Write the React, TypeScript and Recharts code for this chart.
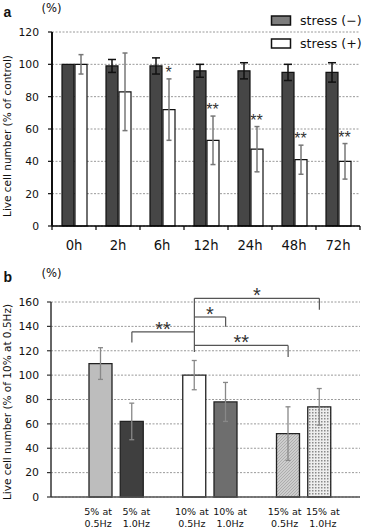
import React from 'react';
import {
  BarChart,
  Bar,
  XAxis,
  YAxis,
  CartesianGrid,
  ErrorBar,
  ReferenceLine,
  ReferenceDot,
  Legend,
  Cell,
} from 'recharts';

// ---------- Panel a data ----------
const timePoints = ['0h', '2h', '6h', '12h', '24h', '48h', '72h'];
const stressMinus = [100, 99, 99, 96, 96, 95, 95];
const stressMinusErr = [0, 4, 5, 4, 5, 5, 6];
const stressPlus = [100, 83, 72, 53, 47.5, 41, 40];
const stressPlusErr = [6, 24, 19, 15, 14, 9, 11];
const stressPlusSig = ['', '', '*', '**', '**', '**', '**'];
const ticksA = [0, 20, 40, 60, 80, 100, 120];
const seriesNamesA = ['stress (\u2212)', 'stress (+)'];

// ---------- Panel b data ----------
const conditionKeys = ['5-0.5', '5-1.0', 'gap1', '10-0.5', '10-1.0', 'gap2', '15-0.5', '15-1.0'];
const strainLabels = ['5% at', '5% at', '', '10% at', '10% at', '', '15% at', '15% at'];
const freqLabels = ['0.5Hz', '1.0Hz', '', '0.5Hz', '1.0Hz', '', '0.5Hz', '1.0Hz'];
const liveCells = [109.5, 62, null, 100, 78, null, 52, 74];
const liveCellsErr = [13, 15, null, 12, 16, null, 22, 15];
const ticksB = [0, 20, 40, 60, 80, 100, 120, 140, 160];

const comparisonStem = { at: '10-0.5', top: 163, bottom: 119 };
const comparisons = [
  { from: '5-1.0', to: '10-0.5', level: 135.5, drop: 126.8, dropAt: 'from', mark: '**' },
  { from: '10-0.5', to: '10-1.0', level: 147.7, drop: 139.7, dropAt: 'to', mark: '*' },
  { from: '10-0.5', to: '15-0.5', level: 124.4, drop: 114.9, dropAt: 'to', mark: '**' },
  { from: '10-0.5', to: '15-1.0', level: 163, drop: 153.7, dropAt: 'to', mark: '*' },
];

// ---------- styles ----------
const FONT = "'DejaVu Sans', sans-serif";
const STAR_FONT = "'Liberation Sans', Arial, sans-serif";
const barFillsB = ['#bdbdbd', '#3f3f3f', '#ffffff', '#ffffff', '#6e6e6e', '#ffffff', 'url(#hatchB)', 'url(#dotsB)'];
const tickShiftB = [-2.5, 4.5, 0, -2.5, 4.5, 0, -3.5, 3.5];
const legendSwatch = ['#7d7d7d', '#ffffff'];

const dataA = timePoints.map((t, i) => ({
  time: t,
  minus: stressMinus[i],
  minusErr: stressMinusErr[i],
  plus: stressPlus[i],
  plusErr: stressPlusErr[i],
}));

const dataB = conditionKeys.map((k, i) => ({
  key: k,
  value: liveCells[i],
  err: liveCellsErr[i],
}));

const makeYLabel = (text: string, shift: number) => (props: any) => {
  const vb = props.viewBox || {};
  const cx = 10.5;
  const cy = (vb.y || 0) + (vb.height || 0) / 2 + shift;
  return (
    <text
      x={cx}
      y={cy}
      transform={`rotate(-90 ${cx} ${cy})`}
      textAnchor="middle"
      fontSize={10.5}
      fontFamily={FONT}
      fill="#111"
    >
      {text}
    </text>
  );
};

const TimeTick = (props: any) => {
  const { x, y, payload, index } = props;
  const half = payload && payload.offset ? payload.offset : 0;
  const last = index === timePoints.length - 1;
  return (
    <g>
      <line x1={x - half} x2={x - half} y1={y} y2={y + 4} stroke="#000" strokeWidth={1.2} />
      {last && <line x1={x + half} x2={x + half} y1={y} y2={y + 4} stroke="#000" strokeWidth={1.2} />}
      <text x={x} y={y + 24} textAnchor="middle" fontSize={13.2} fontFamily={FONT} fill="#111">
        {payload.value}
      </text>
    </g>
  );
};

const ConditionTick = (props: any) => {
  const { x, y, index } = props;
  const l1 = strainLabels[index];
  const l2 = freqLabels[index];
  if (!l1) return <g />;
  const cx = x + tickShiftB[index];
  return (
    <g>
      <text x={cx} y={y + 18} textAnchor="middle" fontSize={9.5} fontFamily={FONT} fill="#111">
        {l1}
      </text>
      <text x={cx} y={y + 30} textAnchor="middle" fontSize={9.5} fontFamily={FONT} fill="#111">
        {l2}
      </text>
    </g>
  );
};

const SigLabelA = (props: any) => {
  const vb = props.viewBox;
  if (!vb) return null;
  return (
    <text
      x={vb.x + vb.width / 2 + 6.5}
      y={vb.y + vb.height / 2 - 1}
      textAnchor="middle"
      fontSize={16}
      fontFamily={STAR_FONT}
      fill="#333"
    >
      {props.value}
    </text>
  );
};

const SigLabelB = (props: any) => {
  const vb = props.viewBox;
  if (!vb) return null;
  return (
    <text
      x={vb.x + vb.width / 2}
      y={vb.y + 4}
      textAnchor="middle"
      fontSize={20}
      fontFamily={STAR_FONT}
      fill="#333"
    >
      {props.value}
    </text>
  );
};

const LegendA = () => (
  <svg width={100} height={40} style={{ display: 'block', overflow: 'visible' }}>
    {seriesNamesA.map((name, i) => (
      <g key={name}>
        <rect
          x={3.5}
          y={4 + i * 23}
          width={19}
          height={9}
          fill={legendSwatch[i]}
          stroke="#111"
          strokeWidth={1.5}
        />
        <text x={32} y={13 + i * 22.5} fontSize={12.6} fontFamily={FONT} fill="#111">
          {name}
        </text>
      </g>
    ))}
  </svg>
);

const gridStroke = '#9a9a9a';

export default function App() {
  return (
    <div
      style={{
        position: 'absolute',
        left: 0,
        top: 0,
        width: 368,
        height: 528,
        background: '#fff',
      }}
    >
      {/* Panel a */}
      <div style={{ position: 'absolute', left: 0, top: 0 }}>
        <BarChart
          width={368}
          height={262}
          data={dataA}
          margin={{ top: 32, right: 8, bottom: 0, left: 0 }}
          barGap={1}
          barSize={12}
        >
          <CartesianGrid vertical={false} stroke={gridStroke} strokeDasharray="2 1.5" />
          <XAxis
            dataKey="time"
            height={36}
            interval={0}
            tickSize={0}
            tickMargin={0}
            tickLine={false}
            axisLine={{ stroke: '#000', strokeWidth: 1.5 }}
            tick={<TimeTick />}
          />
          <YAxis
            width={52}
            domain={[0, 120]}
            ticks={ticksA}
            interval={0}
            tickSize={4}
            tickMargin={9}
            axisLine={{ stroke: '#111', strokeWidth: 2 }}
            tickLine={{ stroke: '#111', strokeWidth: 1.2 }}
            tick={{ fontSize: 10.8, fontFamily: FONT, fill: '#111' }}
            label={{ value: 'Live cell number (% of control)', content: makeYLabel('Live cell number (% of control)', 7) }}
          />
          <Legend
            layout="vertical"
            align="center"
            verticalAlign="middle"
            wrapperStyle={{ top: 12, left: 268, width: 100, height: 40 }}
            content={<LegendA />}
          />
          <Bar
            dataKey="minus"
            name={seriesNamesA[0]}
            fill="#464646"
            stroke="#111"
            strokeWidth={1.2}
            isAnimationActive={false}
          >
            <ErrorBar dataKey="minusErr" width={4} stroke="#111" strokeWidth={1.5} direction="y" />
          </Bar>
          <Bar
            dataKey="plus"
            name={seriesNamesA[1]}
            fill="#ffffff"
            stroke="#111"
            strokeWidth={1.2}
            isAnimationActive={false}
          >
            <ErrorBar dataKey="plusErr" width={2.5} stroke="#777" strokeWidth={1.5} direction="y" />
          </Bar>
          {timePoints.map((t, i) =>
            stressPlusSig[i] ? (
              <ReferenceDot
                key={`sig-${t}`}
                x={t}
                y={stressPlus[i] + stressPlusErr[i]}
                r={0}
                fill="none"
                stroke="none"
                label={{ value: stressPlusSig[i], content: SigLabelA }}
              />
            ) : null
          )}
        </BarChart>
      </div>

      {/* Panel b */}
      <div style={{ position: 'absolute', left: 0, top: 262 }}>
        <BarChart
          width={368}
          height={266}
          data={dataB}
          margin={{ top: 40, right: 8, bottom: 0, left: 0 }}
          barSize={23}
        >
          <defs>
            <pattern id="hatchB" width="3" height="3" patternUnits="userSpaceOnUse">
              <rect width="3" height="3" fill="#cdcdcd" />
              <path d="M0,3 L3,0" stroke="#a5a5a5" strokeWidth="0.8" />
            </pattern>
            <pattern id="dotsB" width="3" height="3" patternUnits="userSpaceOnUse">
              <rect width="3" height="3" fill="#eeeeee" />
              <rect x="0" y="0" width="1.5" height="1.5" fill="#8a8a8a" />
            </pattern>
          </defs>
          <CartesianGrid vertical={false} stroke={gridStroke} strokeDasharray="2 1.5" />
          <XAxis
            dataKey="key"
            height={31}
            interval={0}
            tickSize={0}
            tickMargin={0}
            tickLine={false}
            padding={{ left: 34, right: 25 }}
            axisLine={{ stroke: '#555', strokeWidth: 1.5 }}
            tick={<ConditionTick />}
          />
          <YAxis
            width={51}
            domain={[0, 160]}
            ticks={ticksB}
            interval={0}
            tickSize={4}
            tickMargin={8}
            axisLine={{ stroke: '#333', strokeWidth: 1.5 }}
            tickLine={{ stroke: '#333', strokeWidth: 1.2 }}
            tick={{ fontSize: 10.8, fontFamily: FONT, fill: '#111' }}
            label={{
              value: 'Live cell number (% of 10% at 0.5Hz)',
              content: makeYLabel('Live cell number (% of 10% at 0.5Hz)', 2.5),
            }}
          />
          <Bar dataKey="value" stroke="#222" strokeWidth={1.3} isAnimationActive={false}>
            {dataB.map((d, i) => (
              <Cell key={d.key} fill={barFillsB[i]} />
            ))}
            <ErrorBar dataKey="err" width={2.5} stroke="#888" strokeWidth={1.3} direction="y" />
          </Bar>
          <ReferenceLine
            segment={[
              { x: comparisonStem.at, y: comparisonStem.top },
              { x: comparisonStem.at, y: comparisonStem.bottom },
            ]}
            stroke="#555"
            strokeWidth={1.2}
            ifOverflow="visible"
          />
          {comparisons.map((c, i) => (
            <ReferenceLine
              key={`h-${i}`}
              segment={[
                { x: c.from, y: c.level },
                { x: c.to, y: c.level },
              ]}
              stroke="#555"
              strokeWidth={1.2}
              ifOverflow="visible"
              label={{ value: c.mark, content: SigLabelB }}
            />
          ))}
          {comparisons.map((c, i) => {
            const at = c.dropAt === 'from' ? c.from : c.to;
            return (
              <ReferenceLine
                key={`v-${i}`}
                segment={[
                  { x: at, y: c.level },
                  { x: at, y: c.drop },
                ]}
                stroke="#555"
                strokeWidth={1.2}
                ifOverflow="visible"
              />
            );
          })}
        </BarChart>
      </div>

      {/* Panel letters and unit marks */}
      <svg
        width={368}
        height={528}
        style={{ position: 'absolute', left: 0, top: 0, pointerEvents: 'none' }}
      >
        <text x={3.5} y={17} fontSize={14} fontWeight="bold" fontFamily="'Liberation Sans', Arial, sans-serif" fill="#111">
          a
        </text>
        <text x={41.5} y={11.6} fontSize={11.6} fontFamily={FONT} fill="#111">
          (%)
        </text>
        <text x={3.5} y={282} fontSize={14} fontWeight="bold" fontFamily="'Liberation Sans', Arial, sans-serif" fill="#111">
          b
        </text>
        <text x={41.5} y={276.5} fontSize={11.6} fontFamily={FONT} fill="#111">
          (%)
        </text>
      </svg>
    </div>
  );
}
